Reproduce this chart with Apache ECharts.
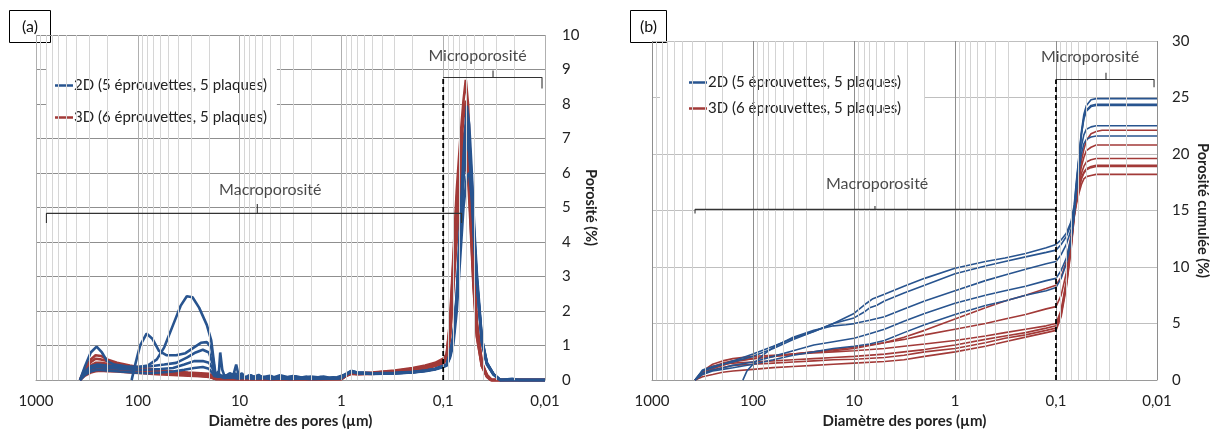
<!DOCTYPE html>
<html><head><meta charset="utf-8">
<script src="https://cdn.jsdelivr.net/npm/echarts@6/dist/echarts.min.js"></script>
<style>html,body{margin:0;padding:0;background:#fff}#c{width:1216px;height:434px}</style>
</head><body><div id="c"></div>
<script>
// ---------- labels ----------
const NAME2D = '2D (5 éprouvettes, 5 plaques)';
const NAME3D = '3D (6 éprouvettes, 5 plaques)';
const xAxisTitle = 'Diamètre des pores (µm)';
const yTitleA = 'Porosité (%)';
const yTitleB = 'Porosité cumulée (%)';
const microText = 'Microporosité';
const macroText = 'Macroporosité';
// gridline helper values (log decades and minor multipliers)
const decades = [0.01, 0.1, 1, 10, 100];
const majorLines = [0.01, 0.1, 1, 10, 100, 1000];
const minorMult = [2, 3, 4, 5, 6, 7, 8, 9];

// ---------- panel (a): Porosité (%) vs diameter (µm) ----------
const a2D_1 = [[370,0],[330,0.25],[290,0.4],[250,0.45],[200,0.42],[150,0.38],[110,0.36],[80,0.42],[65,0.6],[55,0.95],[45,1.6],[38,2.15],[33,2.43],[29,2.4],[25,2.1],[21,1.6],[19,1.15],[18,0.6],[17.3,0.2],[16.5,0.12],[15.5,0.15],[14.5,0.08],[13,0.12],[12,0.1],[11,0.2],[10.5,0.08],[9.5,0.12],[8.5,0.06],[7.8,0.14],[7,0.07],[6.3,0.11],[5.6,0.06],[5,0.13],[4.4,0.05],[4,0.1],[3.5,0.07],[3,0.12],[2.6,0.06],[2.2,0.1],[1.9,0.05],[1.6,0.09],[1.4,0.06],[1.2,0.08],[1.05,0.06],[0.9,0.18],[0.8,0.27],[0.7,0.22],[0.5,0.2],[0.3,0.21],[0.2,0.24],[0.15,0.28],[0.12,0.33],[0.1,0.42],[0.0925,0.45],[0.0857,0.8],[0.0794,1.3],[0.0736,2.5],[0.0682,4.5],[0.0632,6.5],[0.0586,7.95],[0.0555,7.4],[0.0523,6.0],[0.0495,4.4],[0.0467,3.1],[0.0417,1.2],[0.0372,0.5],[0.0321,0.18],[0.0275,0],[0.021,0.04],[0.018,0],[0.01,0]];
const a2D_2 = [[115,0],[105,0.5],[95,1.0],[82,1.35],[72,1.2],[62,0.85],[52,0.72],[42,0.72],[34,0.78],[28,0.95],[24,1.08],[21,1.1],[19,0.95],[18,0.5],[17.3,0.15],[16,0.2],[15.5,0.8],[14.8,0.3],[14,0.1],[12.5,0.2],[11.5,0.15],[10.8,0.45],[10.2,0.12],[9.5,0.2],[8.8,0.08],[8,0.14],[7.2,0.1],[6.5,0.15],[6,0.08],[5.2,0.12],[4.6,0.08],[4,0.14],[3.4,0.09],[2.8,0.11],[2.4,0.07],[2,0.1],[1.7,0.08],[1.5,0.1],[1.3,0.07],[1.1,0.08],[0.9,0.17],[0.8,0.26],[0.7,0.22],[0.5,0.2],[0.3,0.2],[0.2,0.23],[0.15,0.27],[0.12,0.32],[0.1,0.4],[0.0925,0.43],[0.0857,0.65],[0.0794,1.05],[0.0736,2.0],[0.0682,3.5],[0.0632,5.0],[0.0586,5.9],[0.0555,6.0],[0.0523,5.2],[0.0495,4.0],[0.0467,2.9],[0.0417,1.2],[0.0372,0.5],[0.0321,0.17],[0.0275,0],[0.01,0]];
const a2D_3 = [[370,0],[330,0.4],[290,0.8],[254,0.97],[225,0.8],[200,0.55],[170,0.45],[130,0.4],[100,0.38],[75,0.4],[55,0.45],[42,0.5],[33,0.65],[27,0.8],[23,0.88],[20,0.8],[18.5,0.5],[17.5,0.15],[16.5,0.1],[15,0.12],[13.5,0.08],[12,0.15],[11,0.1],[10,0.12],[9,0.07],[8,0.1],[7,0.06],[6,0.1],[5,0.05],[4.2,0.08],[3.5,0.05],[2.8,0.08],[2.2,0.05],[1.8,0.07],[1.4,0.05],[1.1,0.06],[0.9,0.16],[0.8,0.25],[0.7,0.21],[0.5,0.19],[0.3,0.2],[0.2,0.23],[0.15,0.27],[0.12,0.32],[0.1,0.4],[0.0925,0.44],[0.0857,0.75],[0.0794,1.25],[0.0736,2.4],[0.0682,4.3],[0.0632,6.2],[0.0586,7.5],[0.0555,7.0],[0.0523,5.7],[0.0495,4.2],[0.0467,2.9],[0.0417,1.15],[0.0372,0.48],[0.0321,0.17],[0.0275,0],[0.01,0]];
const a2D_4 = [[370,0],[330,0.2],[290,0.33],[250,0.38],[200,0.35],[150,0.33],[110,0.3],[80,0.3],[60,0.32],[45,0.35],[35,0.45],[28,0.55],[23,0.55],[20,0.5],[18.5,0.35],[17.5,0.12],[16,0.1],[14,0.14],[12.5,0.07],[11,0.1],[9.5,0.06],[8,0.09],[6.5,0.05],[5.5,0.08],[4.5,0.04],[3.8,0.07],[3,0.04],[2.4,0.06],[1.8,0.04],[1.3,0.05],[1.0,0.05],[0.9,0.15],[0.8,0.24],[0.7,0.2],[0.5,0.18],[0.3,0.19],[0.2,0.22],[0.15,0.26],[0.12,0.31],[0.1,0.38],[0.0925,0.42],[0.0857,0.7],[0.0794,1.2],[0.0736,2.3],[0.0682,4.0],[0.0632,5.8],[0.0586,7.0],[0.0555,6.6],[0.0523,5.4],[0.0495,4.0],[0.0467,2.8],[0.0417,1.1],[0.0372,0.45],[0.0321,0.16],[0.0275,0],[0.01,0]];
const a2D_5 = [[370,0],[330,0.15],[290,0.25],[250,0.3],[200,0.28],[150,0.25],[110,0.22],[80,0.2],[60,0.22],[45,0.25],[35,0.3],[28,0.35],[23,0.38],[20,0.33],[18.5,0.2],[17.5,0.1],[16.2,0.25],[15.5,0.1],[14,0.06],[12,0.08],[10.5,0.05],[9,0.07],[7.5,0.04],[6,0.06],[5,0.03],[4,0.05],[3.2,0.03],[2.5,0.05],[2,0.03],[1.5,0.04],[1.1,0.04],[0.9,0.16],[0.8,0.25],[0.7,0.21],[0.5,0.19],[0.3,0.2],[0.2,0.22],[0.15,0.27],[0.12,0.32],[0.1,0.39],[0.0925,0.43],[0.0857,0.72],[0.0794,1.22],[0.0736,2.35],[0.0682,4.2],[0.0632,6.0],[0.0586,7.3],[0.0555,6.8],[0.0523,5.6],[0.0495,4.1],[0.0467,2.85],[0.0417,1.1],[0.0372,0.47],[0.0321,0.17],[0.0275,0],[0.01,0]];

const a3D_1 = [[370,0],[330,0.35],[290,0.6],[260,0.72],[230,0.7],[200,0.6],[160,0.5],[120,0.42],[90,0.36],[65,0.3],[45,0.25],[32,0.22],[24,0.2],[20,0.18],[18,0.1],[17,0.05],[10,0.04],[5,0.04],[2,0.04],[1,0.04],[0.9,0.15],[0.8,0.22],[0.7,0.2],[0.5,0.22],[0.3,0.28],[0.2,0.35],[0.15,0.42],[0.12,0.5],[0.1,0.62],[0.0925,0.75],[0.0857,1.7],[0.0794,3.6],[0.0736,5.5],[0.0682,6.9],[0.0632,8.1],[0.06,8.7],[0.057,8.0],[0.0543,6.4],[0.0504,3.6],[0.0467,1.7],[0.0417,0.5],[0.0372,0.15],[0.0333,0],[0.01,0]];
const a3D_2 = [[370,0],[330,0.3],[290,0.52],[260,0.62],[230,0.6],[200,0.55],[160,0.47],[120,0.4],[90,0.34],[65,0.28],[45,0.23],[32,0.2],[24,0.17],[20,0.15],[18,0.08],[17,0.04],[10,0.035],[5,0.04],[2,0.035],[1,0.04],[0.9,0.14],[0.8,0.21],[0.7,0.19],[0.5,0.21],[0.3,0.26],[0.2,0.33],[0.15,0.4],[0.12,0.48],[0.1,0.58],[0.0925,0.72],[0.0857,1.6],[0.0794,3.4],[0.0736,5.2],[0.0682,6.5],[0.0632,7.6],[0.06,8.1],[0.057,7.5],[0.0543,6.0],[0.0504,3.4],[0.0467,1.6],[0.0417,0.5],[0.0372,0.14],[0.0333,0],[0.01,0]];
const a3D_3 = [[370,0],[330,0.25],[290,0.42],[260,0.5],[230,0.5],[200,0.47],[160,0.42],[120,0.36],[90,0.3],[65,0.26],[45,0.22],[32,0.19],[24,0.16],[20,0.14],[18,0.07],[17,0.04],[10,0.035],[5,0.03],[2,0.035],[1,0.035],[0.9,0.14],[0.8,0.2],[0.7,0.19],[0.5,0.2],[0.3,0.25],[0.2,0.31],[0.15,0.37],[0.12,0.45],[0.1,0.55],[0.0925,0.68],[0.0857,1.5],[0.0794,3.2],[0.0736,4.8],[0.0682,6.0],[0.0632,7.0],[0.06,7.4],[0.057,6.9],[0.0543,5.5],[0.0504,3.1],[0.0467,1.5],[0.0417,0.45],[0.0372,0.13],[0.0333,0],[0.01,0]];
const a3D_4 = [[370,0],[330,0.22],[290,0.36],[260,0.42],[230,0.42],[200,0.4],[160,0.36],[120,0.32],[90,0.27],[65,0.23],[45,0.2],[32,0.17],[24,0.14],[20,0.12],[18,0.06],[17,0.03],[10,0.03],[5,0.03],[2,0.03],[1,0.03],[0.9,0.13],[0.8,0.2],[0.7,0.18],[0.5,0.19],[0.3,0.24],[0.2,0.3],[0.15,0.36],[0.12,0.43],[0.1,0.52],[0.0925,0.65],[0.0857,1.4],[0.0794,3.0],[0.0736,4.5],[0.0682,5.7],[0.0632,6.6],[0.06,7.0],[0.057,6.5],[0.0543,5.2],[0.0504,3.0],[0.0467,1.4],[0.0417,0.45],[0.0372,0.12],[0.034,0],[0.01,0]];
const a3D_5 = [[370,0],[330,0.17],[290,0.28],[260,0.32],[230,0.33],[200,0.32],[160,0.3],[120,0.27],[90,0.23],[65,0.2],[45,0.17],[32,0.15],[24,0.12],[20,0.1],[18,0.05],[17,0.03],[10,0.03],[5,0.025],[2,0.03],[1,0.03],[0.9,0.13],[0.8,0.19],[0.7,0.18],[0.5,0.19],[0.3,0.23],[0.2,0.29],[0.15,0.35],[0.12,0.42],[0.1,0.5],[0.0925,0.62],[0.0857,1.3],[0.0794,2.8],[0.0736,4.3],[0.0682,5.4],[0.0632,6.2],[0.06,6.6],[0.057,6.2],[0.0543,4.9],[0.0504,2.8],[0.0467,1.3],[0.0417,0.4],[0.0372,0.1],[0.034,0],[0.01,0]];
const a3D_6 = [[370,0],[330,0.13],[290,0.22],[260,0.26],[230,0.27],[200,0.26],[160,0.25],[120,0.22],[90,0.2],[65,0.17],[45,0.15],[32,0.13],[24,0.11],[20,0.09],[18,0.05],[17,0.03],[10,0.025],[5,0.025],[2,0.025],[1,0.03],[0.9,0.12],[0.8,0.18],[0.7,0.17],[0.5,0.18],[0.3,0.22],[0.2,0.28],[0.15,0.34],[0.12,0.41],[0.1,0.48],[0.0925,0.6],[0.0857,1.2],[0.0794,2.7],[0.0736,4.1],[0.0682,5.1],[0.0632,5.9],[0.06,6.3],[0.057,5.9],[0.0543,4.7],[0.0504,2.7],[0.0467,1.25],[0.0417,0.4],[0.0372,0.1],[0.034,0],[0.01,0]];

// ---------- panel (b): Porosité cumulée (%) vs diameter (µm) ----------
const b2D_1 = [[375,0],[316,0.8],[251,1.1],[200,1.4],[158,1.7],[100,2.3],[63,3.0],[40,3.7],[25,4.3],[16,5.0],[10,5.9],[7.5,6.8],[6.5,7.2],[5,7.6],[3.2,8.3],[2,9.0],[1,9.9],[0.5,10.5],[0.32,10.8],[0.2,11.2],[0.125,11.7],[0.1,12.0],[0.089,12.4],[0.079,13.0],[0.071,14.0],[0.066,15.5],[0.063,17.5],[0.059,20],[0.056,22],[0.053,23.5],[0.05,24.3],[0.045,24.8],[0.04,24.9],[0.01,24.9]];
const b2D_2 = [[375,0],[316,0.9],[251,1.2],[200,1.4],[158,1.6],[100,2.1],[63,2.8],[40,3.6],[25,4.3],[16,5.0],[10,5.5],[8,6.0],[7,6.4],[6,6.6],[5,7.0],[3.2,7.7],[2,8.4],[1,9.4],[0.5,10.1],[0.32,10.5],[0.2,10.9],[0.125,11.3],[0.1,11.5],[0.089,12.0],[0.079,12.7],[0.071,13.8],[0.066,15.3],[0.063,17.2],[0.059,19.8],[0.056,21.8],[0.053,23.2],[0.05,23.9],[0.045,24.3],[0.04,24.4],[0.01,24.4]];
const b2D_3 = [[126,0],[115,0.8],[100,1.4],[80,2.2],[63,2.9],[40,3.8],[25,4.4],[16,4.8],[12,4.9],[10,5.0],[7,5.3],[5,5.6],[3.2,6.3],[2,7.0],[1,7.9],[0.5,8.8],[0.32,9.3],[0.2,9.8],[0.125,10.3],[0.1,10.5],[0.089,11.1],[0.079,12.0],[0.071,13.3],[0.066,15.0],[0.063,17.0],[0.059,19.7],[0.056,21.7],[0.053,23.1],[0.05,23.8],[0.045,24.2],[0.04,24.3],[0.01,24.3]];
const b2D_4 = [[375,0],[316,0.6],[251,0.9],[200,1.1],[158,1.3],[100,1.6],[63,2.1],[40,2.6],[25,3.1],[16,3.4],[10,3.7],[7,4.1],[5,4.5],[3.2,5.2],[2,5.9],[1,6.8],[0.5,7.5],[0.32,7.9],[0.2,8.3],[0.125,8.8],[0.1,9.0],[0.089,9.7],[0.079,10.8],[0.071,12.5],[0.066,14.7],[0.063,16.8],[0.059,19.0],[0.056,20.7],[0.053,21.7],[0.05,22.2],[0.045,22.4],[0.04,22.5],[0.01,22.5]];
const b2D_5 = [[375,0],[316,0.5],[251,0.8],[200,0.95],[158,1.1],[100,1.4],[63,1.8],[40,2.2],[25,2.5],[16,2.8],[10,3.0],[7,3.2],[5,3.5],[3.2,4.2],[2,4.9],[1,5.8],[0.5,6.6],[0.32,7.0],[0.2,7.5],[0.125,7.9],[0.1,8.2],[0.089,9.0],[0.079,10.3],[0.071,12.2],[0.066,14.6],[0.063,16.5],[0.059,18.6],[0.056,20.0],[0.053,20.9],[0.05,21.3],[0.045,21.5],[0.04,21.6],[0.01,21.6]];

const b3D_1 = [[375,0],[316,0.6],[251,1.0],[200,1.3],[158,1.6],[100,1.9],[63,2.1],[40,2.3],[25,2.5],[16,2.6],[10,2.8],[5,3.3],[3.2,3.8],[2,4.4],[1,5.4],[0.5,6.4],[0.32,7.0],[0.2,7.5],[0.125,8.1],[0.1,8.4],[0.089,9.1],[0.079,10.5],[0.071,12.8],[0.066,14.9],[0.063,16.3],[0.059,18.0],[0.056,19.4],[0.053,20.4],[0.05,21.2],[0.045,21.8],[0.04,22.0],[0.035,22.1],[0.01,22.1]];
const b3D_2 = [[375,0],[316,0.7],[251,1.2],[200,1.5],[158,1.7],[100,1.9],[63,2.1],[40,2.3],[25,2.5],[16,2.7],[10,2.9],[5,3.3],[3.2,3.6],[2,4.0],[1,4.5],[0.5,5.0],[0.32,5.4],[0.2,5.8],[0.125,6.3],[0.1,6.5],[0.089,7.5],[0.079,9.5],[0.071,12.3],[0.066,14.8],[0.063,16.2],[0.059,17.8],[0.056,18.9],[0.053,19.7],[0.05,20.3],[0.045,20.6],[0.04,20.8],[0.01,20.8]];
const b3D_3 = [[375,0],[316,0.8],[251,1.4],[200,1.7],[158,1.9],[100,2.1],[63,2.2],[40,2.3],[25,2.4],[16,2.5],[10,2.6],[5,2.8],[3.2,3.0],[2,3.2],[1,3.5],[0.5,3.9],[0.32,4.2],[0.2,4.5],[0.125,4.8],[0.1,5.0],[0.089,6.2],[0.079,8.8],[0.071,12.0],[0.066,14.7],[0.063,16.0],[0.059,17.4],[0.056,18.3],[0.053,18.9],[0.05,19.3],[0.045,19.5],[0.04,19.6],[0.01,19.6]];
const b3D_4 = [[375,0],[316,0.7],[251,1.2],[200,1.4],[158,1.5],[100,1.6],[63,1.7],[40,1.8],[25,1.9],[16,2.0],[10,2.1],[5,2.3],[3.2,2.5],[2,2.7],[1,3.1],[0.5,3.6],[0.32,3.9],[0.2,4.2],[0.125,4.6],[0.1,4.8],[0.089,6.0],[0.079,8.6],[0.071,11.8],[0.066,14.6],[0.063,15.8],[0.059,17.0],[0.056,17.9],[0.053,18.4],[0.05,18.7],[0.045,18.9],[0.04,19.0],[0.01,19.0]];
const b3D_5 = [[375,0],[316,0.5],[251,0.9],[200,1.1],[158,1.3],[100,1.4],[63,1.5],[40,1.6],[25,1.7],[16,1.8],[10,1.85],[5,2.0],[3.2,2.2],[2,2.5],[1,2.8],[0.5,3.3],[0.32,3.7],[0.2,4.0],[0.125,4.4],[0.1,4.6],[0.089,5.8],[0.079,8.4],[0.071,11.7],[0.066,14.5],[0.063,15.7],[0.059,16.9],[0.056,17.8],[0.053,18.3],[0.05,18.6],[0.045,18.8],[0.04,18.9],[0.01,18.9]];
const b3D_6 = [[375,0],[316,0.3],[251,0.5],[200,0.7],[158,0.8],[100,0.95],[63,1.1],[40,1.2],[25,1.3],[16,1.4],[10,1.5],[5,1.65],[3.2,1.8],[2,2.1],[1,2.5],[0.5,3.0],[0.32,3.4],[0.2,3.8],[0.125,4.2],[0.1,4.4],[0.089,5.6],[0.079,8.2],[0.071,11.5],[0.066,14.4],[0.063,15.5],[0.059,16.6],[0.056,17.3],[0.053,17.8],[0.05,18.0],[0.045,18.1],[0.04,18.2],[0.01,18.2]];

// ---------- annotation geometry in data units ----------
const bracketMacroA = [[790,4.55],[790,4.83],[6.7,4.83],[6.7,5.1],[6.7,4.83],[0.066,4.83],[0.066,4.55]];
const bracketMicroA = [[0.1,8.77],[0.0324,8.77],[0.0324,8.97],[0.0324,8.77],[0.0107,8.77],[0.0107,8.45]];
const dashedA = [[0.1,0],[0.1,8.77]];
const bracketMacroB = [[375,14.75],[375,15.1],[6.2,15.1],[6.2,15.4],[6.2,15.1],[0.1,15.1]];
const bracketMicroB = [[0.1,26.6],[0.032,26.6],[0.032,27.2],[0.032,26.6],[0.0107,26.6],[0.0107,25.9]];
const dashedB = [[0.1,0],[0.1,26.6]];
const labelsA = [[0.046,9.4,microText],[5.0,5.5,macroText]];
const labelsB = [[0.046,28.6,microText],[5.9,17.4,macroText]];

// ---------- build ----------
const FONT = 'Lato';
const BLUE = '#28548f', RED = '#a23a38';
const fmt = v => String(Number((+v).toPrecision(4))).replace('.', ',');

const minorVals = [];
decades.forEach(d => minorMult.forEach(m => minorVals.push(+(d*m).toPrecision(4))));

function gridSeries(idx, majorColor, minorColor) {
  return [{
    type: 'line', xAxisIndex: idx, yAxisIndex: idx, data: [], silent: true, z: 1,
    markLine: { silent: true, symbol: ['none','none'], label: {show:false}, animation:false,
      lineStyle: {color: minorColor, width: 1, type: 'solid'},
      data: minorVals.map(v => ({xAxis: v})) }
  },{
    type: 'line', xAxisIndex: idx, yAxisIndex: idx, data: [], silent: true, z: 1,
    markLine: { silent: true, symbol: ['none','none'], label: {show:false}, animation:false,
      lineStyle: {color: majorColor, width: 1, type: 'solid'},
      data: majorLines.map(v => ({xAxis: v})) }
  }];
}
function curve(idx, name, data, color, width) {
  return {type:'line', name, xAxisIndex: idx, yAxisIndex: idx, data, symbol:'none', showSymbol:false,
    lineStyle:{color, width}, itemStyle:{color}, z: 3, silent: true};
}
function bracket(idx, data, dashed) {
  return {type:'line', xAxisIndex: idx, yAxisIndex: idx, data, symbol:'none', silent:true, z:5,
    lineStyle: dashed ? {color:'#000', width:1.8, type:[5,3]} : {color:'#333', width:1.1}};
}
function labels(idx, arr) {
  return {type:'scatter', xAxisIndex: idx, yAxisIndex: idx, symbolSize: 0, silent: true, z: 6,
    data: arr.map(a => ({value:[a[0], a[1]], name:a[2]})),
    label: {show:true, position:'inside', formatter: p => p.name, color:'#1a1a1a', fontFamily: FONT, fontSize: 16}};
}

const series = [];
series.push(...gridSeries(0, '#b0b0b0', '#d6d6d6'));
series.push(...gridSeries(1, '#8e8e8e', '#d3d3d3'));
[a3D_1,a3D_2,a3D_3,a3D_4,a3D_5,a3D_6].forEach(d => series.push(curve(0, NAME3D, d, RED, 2.6)));
[a2D_1,a2D_2,a2D_3,a2D_4,a2D_5].forEach(d => series.push(curve(0, NAME2D, d, BLUE, 2.6)));
[b3D_1,b3D_2,b3D_3,b3D_4,b3D_5,b3D_6].forEach(d => series.push(curve(1, NAME3D, d, RED, 1.6)));
[b2D_1,b2D_2,b2D_3,b2D_4,b2D_5].forEach(d => series.push(curve(1, NAME2D, d, BLUE, 1.6)));
series.push(bracket(0, bracketMacroA), bracket(0, bracketMicroA), bracket(0, dashedA, true));
series.push(bracket(1, bracketMacroB), bracket(1, bracketMicroB), bracket(1, dashedB, true));
series.push(labels(0, labelsA), labels(1, labelsB));

function xAxis(idx) {
  return {type:'log', logBase:10, min:0.01, max:1000, inverse:true, gridIndex: idx,
    name: xAxisTitle, nameLocation:'middle', nameGap: 31,
    nameTextStyle:{fontFamily: FONT, fontWeight:'bold', fontSize:15, color:'#222'},
    axisLine:{show:true, lineStyle:{color:'#9a9a9a'}}, axisTick:{show:false},
    splitLine:{show:false},
    axisLabel:{formatter: fmt, fontFamily: FONT, fontSize:15, color:'#222', margin:14}};
}
function yAxis(idx, max, interval, name, splitColor, margin) {
  return {type:'value', min:0, max, interval, gridIndex: idx, position:'right',
    name, nameLocation:'middle', nameRotate:-90, nameGap: 38,
    nameTextStyle:{fontFamily: FONT, fontWeight:'bold', fontSize:14.5, color:'#222'},
    axisLine:{show:false}, axisTick:{show:false},
    splitLine:{show:true, lineStyle:{color: splitColor, width:1}},
    axisLabel:{fontFamily: FONT, fontSize:15, color:'#222', margin}};
}
function legend(left, top, gap, padding) {
  return {data:[NAME2D, NAME3D], orient:'vertical', left, top, itemGap: gap,
    backgroundColor:'#fff', padding, itemWidth:18, itemHeight:2.5,
    icon:'path://M0,0H100V10H0Z', symbolKeepAspect:false,
    itemStyle:{borderWidth:0},
    textStyle:{fontFamily: FONT, fontSize:15, color:'#222', padding:[0,0,0,-4]}};
}

const chart = echarts.init(document.getElementById('c'), null, {renderer:'canvas'});
chart.setOption({
  animation:false,
  backgroundColor:'#fff',
  grid:[{left:36, top:35, width:509, height:350}, {left:652, top:41, width:505, height:344}],
  xAxis:[xAxis(0), xAxis(1)],
  yAxis:[yAxis(0, 10, 1, yTitleA, '#8f8f8f', 17), yAxis(1, 30, 5, yTitleB, '#bfbfbf', 15)],
  legend:[legend(46, 67, 17, [11, 10, 13, 9]), legend(660, 63, 11, [12, 24, 12, 29])],
  series,
  graphic:[
    {type:'rect', shape:{x:9.5,y:10.5,width:41,height:32}, style:{fill:'#fff', stroke:'#000', lineWidth:1}},
    {type:'text', style:{text:'(a)', x:30, y:27, align:'center', verticalAlign:'middle', font:'16px Lato', fill:'#111'}},
    {type:'rect', shape:{x:630.5,y:10.5,width:36,height:32}, style:{fill:'#fff', stroke:'#000', lineWidth:1}},
    {type:'text', style:{text:'(b)', x:648.5, y:27, align:'center', verticalAlign:'middle', font:'16px Lato', fill:'#111'}}
  ]
});
</script></body></html>
